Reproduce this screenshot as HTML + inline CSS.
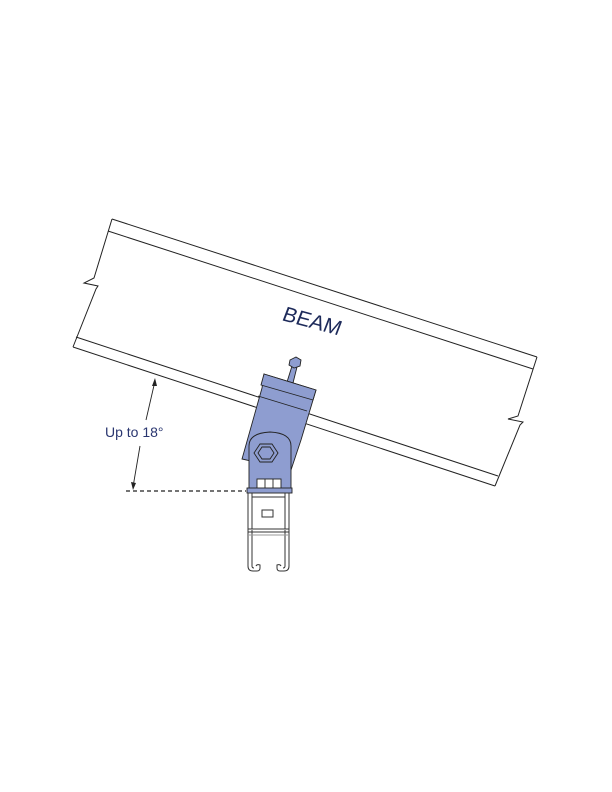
<!DOCTYPE html>
<html><head><style>html,body{margin:0;padding:0;background:#fff}svg{display:block}</style></head>
<body>
<svg width="612" height="792" viewBox="0 0 612 792" xmlns="http://www.w3.org/2000/svg">
<g fill="none" stroke="#222" stroke-width="1">
<line x1="112" y1="219" x2="537" y2="357"/>
<line x1="108" y1="231" x2="533" y2="369"/>
<line x1="76" y1="337" x2="498" y2="476"/>
<line x1="73" y1="347" x2="495" y2="486"/>
<polyline points="112,219 94,278 84,283 98,286 96,289 73,347"/>
<polyline points="537,357 518,416 508,419 523,422 520,425 495,486"/>
</g>
<text x="0" y="0" transform="translate(281,320) rotate(15) skewX(-6)" font-family="Liberation Sans, sans-serif" font-size="21" fill="#1d2a5a">BEAM</text>
<line x1="126" y1="491" x2="246" y2="491" stroke="#222" stroke-width="1.2" stroke-dasharray="4,3"/>
<line x1="155" y1="381" x2="146" y2="420" stroke="#222" stroke-width="0.9"/>
<line x1="140" y1="446" x2="133" y2="487" stroke="#222" stroke-width="0.9"/>
<path d="M155,378 l-3,8 l5,0 z" fill="#222"/>
<path d="M133,490 l-2,-8 l5,1 z" fill="#222"/>
<text x="105" y="437" font-family="Liberation Sans, sans-serif" font-size="14" fill="#2a3670">Up to 18°</text>
<g stroke="#222" stroke-width="0.9" fill="#8e9dd0">
<path d="M292,366 l5,1 l-4,16 l-6,-1 z"/>
<path d="M290,360 l6,-3 l5,3 l-1,6 l-6,2 l-5,-3 z"/>
<path d="M264,374 L316,390 L301,440 L291,470 L242,459 L262,388 z"/>
<path d="M264,374 L316,390 L313,400 L261,385 z"/>
<line x1="258" y1="396" x2="307" y2="411"/>
<path d="M249,490 L249,446 Q249,433 270,432 Q291,433 291,446 L291,490 z"/>
<polygon points="260,444 272,444 278,453 272,462 260,462 254,453"/>
<polygon points="262,447 270,447 274,453 270,459 262,459 258,453" fill="none"/>
<rect x="257" y="479" width="24" height="10" fill="#fff"/>
<line x1="265" y1="479" x2="265" y2="489"/>
<line x1="273" y1="479" x2="273" y2="489"/>
<rect x="247" y="488" width="45" height="5"/>
</g>
<g fill="none" stroke="#333" stroke-width="1">
<rect x="248" y="493" width="41" height="36"/>
<line x1="252" y1="493" x2="252" y2="529"/>
<line x1="285" y1="493" x2="285" y2="529"/>
<line x1="252" y1="497" x2="285" y2="497"/>
<rect x="262" y="510" width="11" height="7"/>
<path d="M248,529 L248,566 Q248,571 253,571 L257,571 Q260,571 260,568 L260,565 Q257,564 256,566"/>
<path d="M252,530 L252,566 Q252,568 254,568"/>
<path d="M289,529 L289,566 Q289,571 284,571 L280,571 Q277,571 277,568 L277,565 Q280,564 281,566"/>
<path d="M285,530 L285,566 Q285,568 283,568"/>
<line x1="248" y1="532" x2="289" y2="532"/>
<line x1="248" y1="535" x2="289" y2="535" stroke="#999"/>
</g>
</svg>
</body></html>
